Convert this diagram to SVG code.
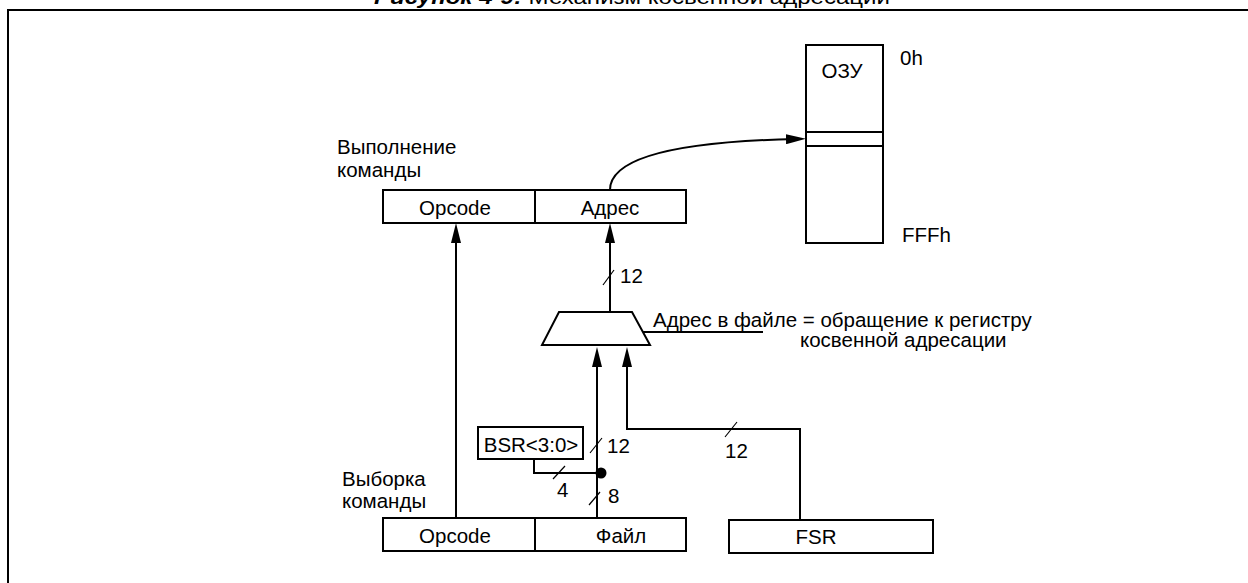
<svg xmlns="http://www.w3.org/2000/svg" width="1248" height="583" viewBox="0 0 1248 583">
<style>
text{font-family:"Liberation Sans",Arial,sans-serif;font-size:20.5px;fill:#000}
.box{fill:#fff;stroke:#000;stroke-width:2}
.ln{fill:none;stroke:#000;stroke-width:2}
.sl{fill:none;stroke:#000;stroke-width:1.2}
.mid{text-anchor:middle}
</style>
<defs>
<marker id="arr" viewBox="0 0 20 10" markerWidth="20" markerHeight="10" refX="10" refY="5" orient="auto" markerUnits="userSpaceOnUse">
<path d="M0,0 L20,5 L0,10 z" fill="#000"/>
</marker>
</defs>
<rect width="1248" height="583" fill="#fff"/>
<g id="title">
<text x="374" y="4" font-size="22" textLength="516" lengthAdjust="spacingAndGlyphs"><tspan font-weight="bold" font-style="italic">Рисунок 4-9:</tspan> Механизм косвенной адресации</text>
</g>
<g id="frame">
<path class="ln" d="M8,583 V10 H1248" stroke-width="2.5"/>
</g>
<g id="connectors">
<path class="ln" d="M610,190 C610,162 660,142 796,139" marker-end="url(#arr)"/>
<path class="ln" d="M456,518 V233" marker-end="url(#arr)"/>
<path class="ln" d="M610,312 V233" marker-end="url(#arr)"/>
<path class="ln" d="M597,518 V357" marker-end="url(#arr)"/>
<path class="ln" d="M800,519 V429 H627 V357" marker-end="url(#arr)"/>
<path class="ln" d="M534,459 V473 H601"/>
<circle cx="601" cy="473" r="5.5" fill="#000"/>
<path class="ln" d="M643,332 H763"/>
<path class="sl" d="M603,285 L614,270"/>
<path class="sl" d="M590,453 L602,438"/>
<path class="sl" d="M589,505 L600,492"/>
<path class="sl" d="M553,479 L565,466"/>
<path class="sl" d="M725,437 L737,422"/>
<text x="620" y="283">12</text>
<text x="607" y="453">12</text>
<text x="608" y="503">8</text>
<text x="557" y="497">4</text>
<text x="725" y="458">12</text>
</g>
<g id="exec-label">
<text x="337" y="154">Выполнение</text>
<text x="337" y="177">команды</text>
</g>
<g id="exec-register">
<rect class="box" x="383" y="190" width="303" height="33"/>
<line class="ln" x1="535" y1="190" x2="535" y2="223"/>
<text class="mid" x="455" y="215">Opcode</text>
<text class="mid" x="610" y="215">Адрес</text>
</g>
<g id="ram">
<rect class="box" x="806" y="45" width="77" height="198"/>
<line class="ln" x1="806" y1="132" x2="883" y2="132"/>
<line class="ln" x1="806" y1="146" x2="883" y2="146"/>
<text class="mid" x="842" y="78">ОЗУ</text>
<text x="900" y="65">0h</text>
<text x="902" y="242">FFFh</text>
</g>
<g id="mux">
<polygon class="box" points="559,312 632,312 650,345 542,345"/>
<text x="653" y="327">Адрес в файле = обращение к регистру</text>
<text x="800" y="347">косвенной адресации</text>
</g>
<g id="bsr">
<rect class="box" x="478" y="427" width="105" height="32"/>
<text class="mid" x="531" y="452">BSR&lt;3:0&gt;</text>
</g>
<g id="fetch-label">
<text x="342" y="486">Выборка</text>
<text x="342" y="508">команды</text>
</g>
<g id="fetch-register">
<rect class="box" x="383" y="518" width="303" height="33"/>
<line class="ln" x1="535" y1="518" x2="535" y2="551"/>
<text class="mid" x="455" y="543">Opcode</text>
<text class="mid" x="621" y="543">Файл</text>
</g>
<g id="fsr">
<rect class="box" x="729" y="520" width="204" height="33"/>
<text class="mid" x="816" y="544">FSR</text>
</g>
</svg>
